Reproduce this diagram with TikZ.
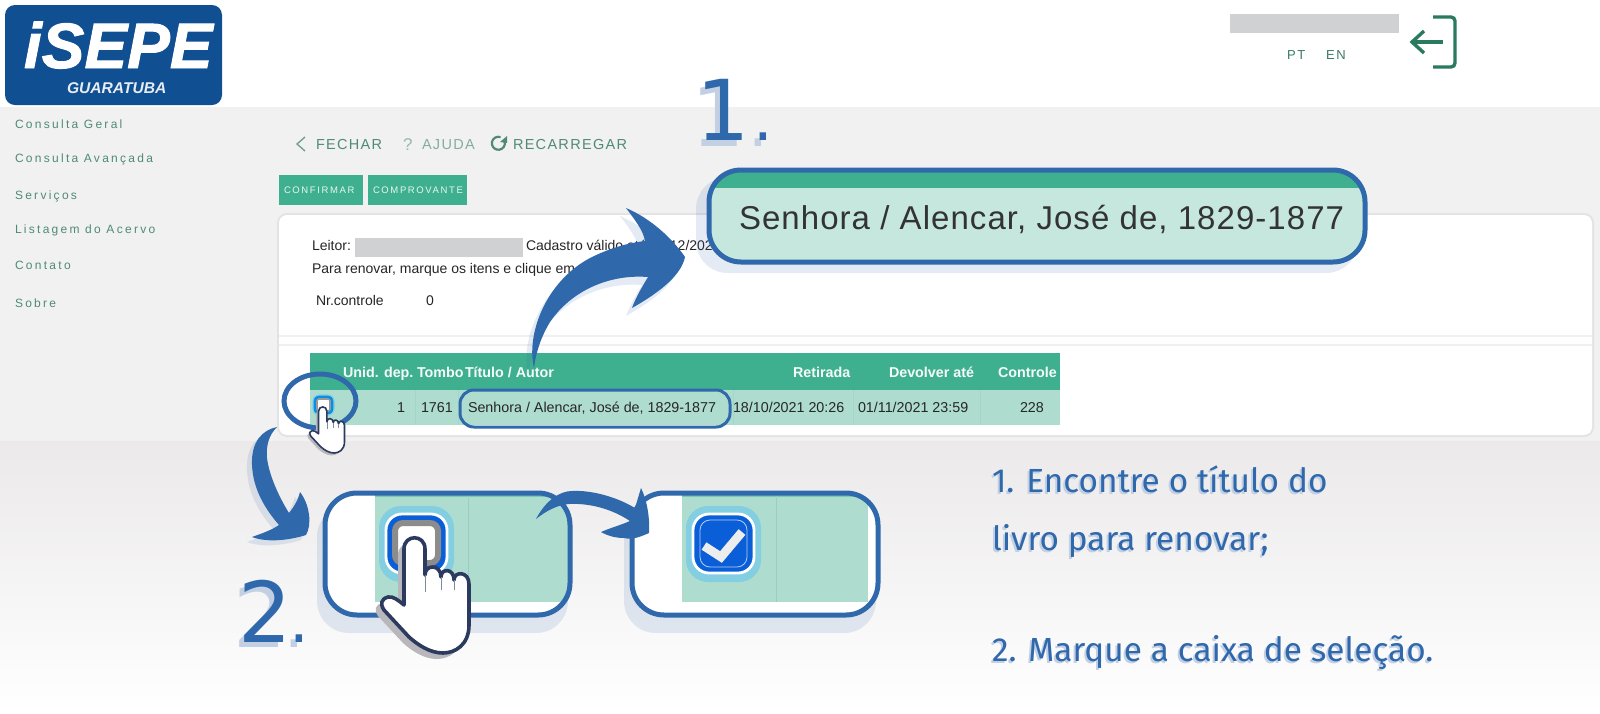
\documentclass[tikz,border=0pt]{standalone}
\usepackage{fontspec}
\usetikzlibrary{shapes.geometric}
\setmainfont{Liberation Sans}
\newfontfamily\stepf{Fira Sans}
\newfontfamily\digf{DejaVu Sans}
\newcommand\pxf[1]{\fontsize{\fpeval{#1*0.5}}{\fpeval{#1*0.6}}\selectfont}
\newcommand\lsp[1]{\addfontfeature{LetterSpace=#1}}
\definecolor{bluemain}{HTML}{3068AC}
\definecolor{digshadow}{HTML}{C3D0E4}
\definecolor{tealhead}{HTML}{3FB08F}
\definecolor{tealrow}{HTML}{AEDDD0}
\definecolor{tealbody}{HTML}{C5E7DD}
\definecolor{menutext}{HTML}{4F8A78}
\definecolor{redact}{HTML}{D0D1D3}
\definecolor{pagegray}{HTML}{F1F1F1}
\definecolor{pagegrad}{HTML}{EBE9E9}
\definecolor{logoblue}{HTML}{0F4F92}
\definecolor{exitgreen}{HTML}{2A7A5F}
\definecolor{cbblue}{HTML}{0A5FD8}
\definecolor{cblight}{HTML}{84CEE2}
\definecolor{handline}{HTML}{2B3A5E}
\definecolor{handshadow}{HTML}{B8B8BC}
\tikzset{
  x=0.5pt,y=-0.5pt,
  txt/.style={anchor=base west,inner sep=0pt,outer sep=0pt},
  menu/.style={txt,text=menutext,font=\pxf{12}\lsp{19}},
  tool/.style={txt,text=menutext,font=\pxf{14.5}\lsp{9}},
  btn/.style={fill=tealhead,draw=none},
  btntxt/.style={txt,text=white!88!tealhead,font=\pxf{9.5}\lsp{17}},
  body/.style={txt,text=black!85,font=\pxf{14}},
  cell/.style={txt,text=black!85,font=\pxf{14.3}},
  th/.style={txt,text=white!95!tealhead,font=\bfseries\pxf{14.3}},
  bluebox/.style={draw=bluemain,line width=2.5pt},
  shadowfill/.style={fill=bluemain,opacity=.13},
  big/.style={txt,text=bluemain,font=\digf\pxf{84}},
  bigs/.style={txt,text=digshadow,font=\digf\pxf{84}},
  steptxt/.style={txt,text=bluemain,font=\stepf\pxf{33.4}},
  steps/.style={txt,text=digshadow,font=\stepf\pxf{33.4}},
  pics/hand/.style={code={
    \begin{scope}[shift={(-414.5,-538)}]
    \fill[handshadow,shift={(-6,6)}] (404,605) -- (404,549) .. controls (404,534) and (425,534) .. (425,549) -- (425,575) .. controls (425,564) and (441,564) .. (441,577) .. controls (441,568) and (454,568) .. (454,580) .. controls (454,571) and (469,571) .. (469,584) -- (469,625) .. controls (469,645) and (455,653) .. (443,653) .. controls (430,653) and (418,645) .. (409,637) -- (384,610) .. controls (380,604) and (381,599) .. (388,597) .. controls (393,596) and (398,600) .. (404,605) -- cycle;
    \draw[fill=white,draw=handline,line width=#1,line join=round] (404,605) -- (404,549) .. controls (404,534) and (425,534) .. (425,549) -- (425,575) .. controls (425,564) and (441,564) .. (441,577) .. controls (441,568) and (454,568) .. (454,580) .. controls (454,571) and (469,571) .. (469,584) -- (469,625) .. controls (469,645) and (455,653) .. (443,653) .. controls (430,653) and (418,645) .. (409,637) -- (384,610) .. controls (380,604) and (381,599) .. (388,597) .. controls (393,596) and (398,600) .. (404,605) -- cycle;
    \draw[handline!60,line width=0.4pt] (425,575)--(425,592) (441,577)--(441,590) (454,580)--(454,590);
    \end{scope}
  }},
}
\newcommand\arrowA{(534,368) .. controls (526,335) and (545,282) .. (590,258) .. controls (610,248) and (628,243) .. (645,241) .. controls (643,230) and (635,220) .. (626,208) .. controls (650,218) and (672,238) .. (685,257) .. controls (681,277) and (655,295) .. (632,308) .. controls (636,297) and (642,287) .. (648,277) .. controls (610,274) and (572,290) .. (550,322) .. controls (541,337) and (536,352) .. (534,368) -- cycle}
\newcommand\arrowB{(277,427) .. controls (262,430) and (251,442) .. (252,465) .. controls (253,490) and (266,510) .. (279,525) .. controls (270,531) and (260,534) .. (252,537) .. controls (268,543) and (290,540) .. (306,535) .. controls (312,525) and (310,505) .. (300,492) .. controls (298,500) and (294,507) .. (289,513) .. controls (279,497) and (269,475) .. (267,458) .. controls (266,445) and (269,435) .. (277,427) -- cycle}
\newcommand\arrowC{(536,519) .. controls (546,500) and (560,491) .. (572,491) .. controls (590,490) and (615,496) .. (635,508) -- (641,488) .. controls (647,500) and (650,518) .. (649,533) .. controls (640,537) and (632,540) .. (624,538) .. controls (616,538) and (608,536) .. (601,532) .. controls (610,528) and (621,525) .. (630,521) .. controls (612,509) and (590,503) .. (569,504) .. controls (557,505) and (546,511) .. (536,519) -- cycle}
\begin{document}
\begin{tikzpicture}
\path[use as bounding box] (0,0) rectangle (1600,713);
\fill[white] (0,0) rectangle (1600,713);
\fill[pagegray] (0,107) rectangle (1600,441);
\shade[top color=pagegrad,bottom color=white] (0,441) rectangle (1600,713);
% logo
\fill[logoblue,rounded corners=5pt] (5,5) rectangle (222,105);
\node[txt,text=white,font=\bfseries\itshape\pxf{64}\addfontfeature{FakeBold=1.5}] (logo) at (24,68) {iSEPE};
\node[txt,text=white!90!logoblue,font=\bfseries\itshape\pxf{15.6}] (logosub) at (67,93) {GUARATUBA};
% top right
\fill[redact] (1230,14) rectangle (1399,33);
\node[txt,text=exitgreen!80!gray,font=\pxf{13}\lsp{14}] (pt) at (1287,59) {PT};
\node[txt,text=exitgreen!80!gray,font=\pxf{13}\lsp{14}] (en) at (1326,59) {EN};
\draw[exitgreen,line width=1.7pt,rounded corners=2pt] (1433,17) -- (1455,17) -- (1455,67) -- (1433,67);
\draw[exitgreen,line width=1.7pt] (1412,42) -- (1443,42);
\draw[exitgreen,line width=1.7pt] (1424,31) -- (1412,42) -- (1424,53);
% menu
\node[menu] (m1) at (15,128) {Consulta Geral};
\node[menu] (m2) at (15,162) {Consulta Avançada};
\node[menu] (m3) at (15,199) {Serviços};
\node[menu] (m4) at (15,233) {Listagem do Acervo};
\node[menu] (m5) at (15,269) {Contato};
\node[menu] (m6) at (15,307) {Sobre};
% toolbar
\draw[menutext!80!white,line width=0.7pt] (305,137) -- (297,144) -- (305,151);
\node[tool] (fechar) at (316,149) {FECHAR};
\node[txt,text=menutext!60!white,font=\pxf{17}] (help) at (403,150) {?};
\node[tool,text=menutext!70!white] (ajuda) at (422,149) {AJUDA};
\draw[menutext,line width=1.1pt] (504,140) arc (-30:290:6.5);
\fill[menutext] (507,136) -- (507,143) -- (500,142) -- cycle;
\node[tool] (recar) at (513,149) {RECARREGAR};
\fill[btn] (279,175) rectangle (363,205);
\fill[btn] (368,175) rectangle (467,205);
\node[btntxt] (conf) at (284,193) {CONFIRMAR};
\node[btntxt] (comp) at (373,193) {COMPROVANTE};
% card
\fill[black!11,rounded corners=5pt] (277,213) rectangle (1594,437);
\fill[white,rounded corners=4pt] (279,215) rectangle (1592,435);
\draw[black!6,line width=0.6pt] (279,336) -- (1592,336) (279,345) -- (1592,345);
\node[body] (leitor) at (312,250) {Leitor:};
\fill[redact] (355,238) rectangle (523,257);
\node[body] (cad) at (526,250) {Cadastro válido até 01/12/2021};
\node[body] (para) at (312,273) {Para renovar, marque os itens e clique em};
\node[body] (nr) at (316,305) {Nr.controle};
\node[body] (zero) at (426,305) {0};
% table
\fill[tealhead] (310,353) rectangle (1060,390);
\fill[tealrow] (310,390) rectangle (1060,425);
\draw[black!4!tealrow,line width=0.5pt] (415,390)--(415,425) (458,390)--(458,425) (733,390)--(733,425) (853,390)--(853,425) (980,390)--(980,425);
\node[th] (h1) at (343,377) {Unid. dep.};
\node[th] (h2) at (417,377) {Tombo};
\node[th] (h3) at (465,377) {Título / Autor};
\node[th] (h4) at (793,377) {Retirada};
\node[th] (h5) at (889,377) {Devolver até};
\node[th] (h6) at (998,377) {Controle};
\node[cell] (c1) at (397,412) {1};
\node[cell] (c2) at (421,412) {1761};
\node[cell] (c3) at (468,412) {Senhora / Alencar, José de, 1829-1877};
\node[cell] (c4) at (733,412) {18/10/2021 20:26};
\node[cell] (c5) at (858,412) {01/11/2021 23:59};
\node[cell] (c6) at (1020,412) {228};
\draw[draw=bluemain,line width=1.5pt,rounded corners=7pt] (460,390) rectangle (730,427);
% small checkbox
\draw[fill=cbblue!70!cyan,draw=cblight,line width=0.6pt,rounded corners=3pt] (313,395) rectangle (334,415);
\draw[fill=white,draw=black!40,line width=0.8pt,rounded corners=1pt] (317,399) rectangle (330,411);
\draw[line width=2.5pt,bluemain] (320,401) ellipse [x radius=36,y radius=27];
\pic[scale=.4] (smallhand) at (322.7,407) {hand=0.8pt};
% arrows
\fill[shadowfill,shift={(-6,8)}] \arrowA;
\fill[bluemain] \arrowA;
\fill[shadowfill,shift={(-5,5)}] \arrowB;
\fill[bluemain] \arrowB;
% callout
\fill[shadowfill,rounded corners=16pt] (696,177) rectangle (1358,273);
\begin{scope}
  \clip[rounded corners=16pt] (709,170) rectangle (1365,262);
  \fill[tealbody] (709,170) rectangle (1365,262);
  \fill[tealhead] (709,170) rectangle (1365,188);
\end{scope}
\draw[bluebox,rounded corners=16pt] (709,170) rectangle (1365,262);
\node[txt,text=black!80,font=\pxf{33}\lsp{3.2}] (calltxt) at (739,229) {Senhora / Alencar, José de, 1829-1877};
% big digits
\node[bigs] (one-s) at (691,146) {1\kern1.8pt{\pxf{62}.}};
\node[big] (one) at (696,140) {1\kern1.8pt{\pxf{62}.}};
\node[bigs] (two-s) at (233,647) {2\kern-1.2pt{\pxf{62}.}};
\node[big] (two) at (238,642) {2\kern-1.2pt{\pxf{62}.}};
% step 2 boxes
\fill[shadowfill,rounded corners=16pt] (317,505) rectangle (568,633);
\fill[shadowfill,rounded corners=16pt] (624,505) rectangle (876,633);
\begin{scope}
  \clip[rounded corners=16pt] (325,493) rectangle (570,615);
  \fill[white] (325,493) rectangle (570,615);
  \fill[tealrow] (375,493) rectangle (570,602);
  \fill[tealhead!70!white] (375,493) rectangle (570,497);
  \draw[black!8!tealrow,line width=0.5pt] (468,493) -- (468,602);
\end{scope}
\draw[bluebox,rounded corners=16pt] (325,493) rectangle (570,615);
\begin{scope}
  \clip[rounded corners=16pt] (632,493) rectangle (878,615);
  \fill[white] (632,493) rectangle (878,615);
  \fill[tealrow] (682,493) rectangle (868,602);
  \fill[tealhead!70!white] (682,493) rectangle (878,497);
  \draw[black!8!tealrow,line width=0.5pt] (776,493) -- (776,602);
\end{scope}
\draw[bluebox,rounded corners=16pt] (632,493) rectangle (878,615);
% big checkbox unchecked
\fill[cblight,rounded corners=11pt] (379,506) rectangle (454,582);
\draw[fill=cbblue,draw=white,line width=1.4pt,rounded corners=8pt] (386,514) rectangle (447,573);
\draw[fill=white,draw=black!45,line width=3pt,rounded corners=4pt] (395,523) rectangle (438,563);
% big checkbox checked
\fill[cblight,rounded corners=11pt] (686,506) rectangle (761,582);
\draw[fill=cbblue,draw=white,line width=1.4pt,rounded corners=8pt] (693,514) rectangle (754,573);
\draw[draw=white!70!cbblue,line width=0.4pt,rounded corners=5pt] (700,520) rectangle (747,567);
\draw[white!93!black,line width=4.4pt] (704,546) -- (721,557) -- (742,532);
% connecting arrow and big hand
\fill[bluemain] \arrowC;
\pic (bighand) at (414.5,538) {hand=1.8pt};
% step text
\node[steps] (s1s) at (990,494) {1. Encontre o título do};
\node[steptxt] (s1) at (992,492) {1. Encontre o título do};
\node[steps] (s2s) at (990,552) {livro para renovar;};
\node[steptxt] (s2) at (992,550) {livro para renovar;};
\node[steps] (s3s) at (990,663) {2. Marque a caixa de seleção.};
\node[steptxt] (s3) at (992,661) {2. Marque a caixa de seleção.};
\end{tikzpicture}
\end{document}
